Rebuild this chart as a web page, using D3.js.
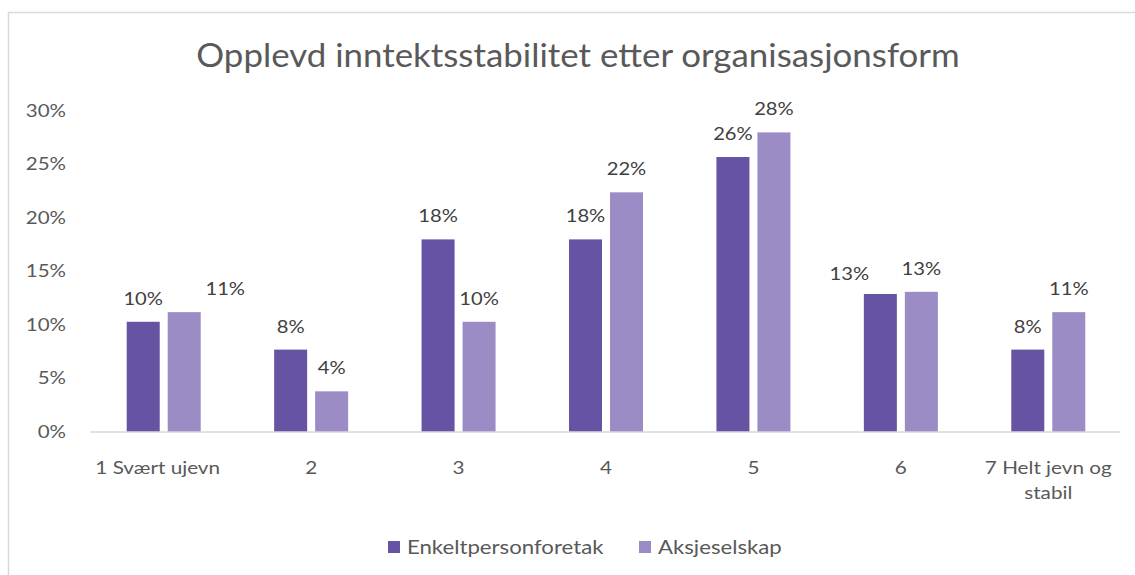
<!DOCTYPE html>
<html><head><meta charset="utf-8">
<script src="https://cdn.jsdelivr.net/npm/d3@7"></script>
<style>body{margin:0;background:#fff}svg text{font-family:Lato,"Open Sans",sans-serif}</style>
</head><body><svg id="c" width="1135" height="575"></svg>
<script>
const title = "Opplevd inntektsstabilitet etter organisasjonsform";
const categories = ["1 Svært ujevn","2","3","4","5","6","7 Helt jevn og stabil"];
const series = ["Enkeltpersonforetak","Aksjeselskap"];
const enkelt = [10.3, 7.7, 18.0, 18.0, 25.7, 12.9, 7.7];
const aksje = [11.2, 3.8, 10.3, 22.4, 28.0, 13.1, 11.2];
const enkeltLabels = ["10%","8%","18%","18%","26%","13%","8%"];
const aksjeLabels = ["11%","4%","10%","22%","28%","13%","11%"];
const yTicks = [0,5,10,15,20,25,30];
const colors = ["#6753a3","#9b8cc6"];

const svg = d3.select("#c");
svg.append("path").attr("d","M8.5,575 V12.5 H1135").attr("fill","none").attr("stroke","#d9d9d9").attr("stroke-width",1.5);

const x = d3.scaleBand().domain(categories).range([90,1122]).padding(0);
const groupW = 74;
const x1 = d3.scaleBand().domain(series).range([0,groupW]).paddingInner(0.195);
const y = d3.scaleLinear().domain([0,30]).range([432,111]);

// horizontal stretch helper (reference glyphs are wider than Lato)
function stretch(sel, sx){
  sel.each(function(){
    const t = d3.select(this);
    const px = +t.attr("x")||0, py = +t.attr("y")||0;
    t.attr("transform",`translate(${px},${py}) scale(${sx},1) translate(${-px},${-py})`);
  });
}

stretch(svg.append("text").attr("x",578).attr("y",67).attr("text-anchor","middle")
  .attr("font-size",32).attr("fill","#595959").text(title), 1.09);

// y axis labels
const ya = svg.append("g");
yTicks.forEach(t=>{
  ya.append("text").attr("x",66).attr("y",y(t)+6).attr("text-anchor","end")
    .attr("font-size",18).attr("fill","#595959").text(t+"%");
});
stretch(ya.selectAll("text"),1.14);

// bars
const data = [enkelt, aksje];
const labels = [enkeltLabels, aksjeLabels];
const nudge = {"1-0": 41, "0-5": -31};
series.forEach((s,si)=>{
  const g = svg.append("g");
  g.selectAll("rect").data(categories).join("rect")
    .attr("x",(c)=>x(c)+(x.bandwidth()-groupW)/2+x1(s))
    .attr("width",x1.bandwidth())
    .attr("y",(c,i)=>y(data[si][i]))
    .attr("height",(c,i)=>y(0)-y(data[si][i]))
    .attr("fill",colors[si]);
  const tl = g.selectAll("text").data(categories).join("text")
    .attr("x",(c,i)=>x(c)+(x.bandwidth()-groupW)/2+x1(s)+x1.bandwidth()/2+(nudge[si+"-"+i]||0))
    .attr("y",(c,i)=>y(data[si][i])-17-(si===0&&i===5?-3:0))
    .attr("text-anchor","middle").attr("font-size",18).attr("fill","#404040")
    .text((c,i)=>labels[si][i]);
  stretch(tl,1.12);
});

// x axis
const xa = svg.append("g").attr("transform","translate(0,432)").call(d3.axisBottom(x).tickSize(0).tickPadding(0).tickFormat(""));
xa.select(".domain").attr("stroke","#d9d9d9").attr("stroke-width",1.5).attr("d","M90,0H1120");
xa.selectAll(".tick text").remove();
const xl = svg.append("g");
categories.forEach((c,ci)=>{
  const cx = x(c)+x.bandwidth()/2 - (ci===0?6:0);
  let lines = [c];
  if (c.startsWith("7")) lines = ["7 Helt jevn og","stabil"];
  lines.forEach((l,li)=>{
    xl.append("text").attr("x",cx).attr("y",474+li*25).attr("text-anchor","middle")
      .attr("font-size",18).attr("fill","#595959").text(l);
  });
});
stretch(xl.selectAll("text"),1.15);

// legend
const lg = svg.append("g");
const legX = [388, 639];
series.forEach((s,i)=>{
  lg.append("rect").attr("x",legX[i]).attr("y",541).attr("width",12).attr("height",12).attr("fill",colors[i]);
  stretch(lg.append("text").attr("x",legX[i]+19).attr("y",554).attr("font-size",18.5).attr("fill","#595959").text(s),1.2);
});
</script></body></html>
